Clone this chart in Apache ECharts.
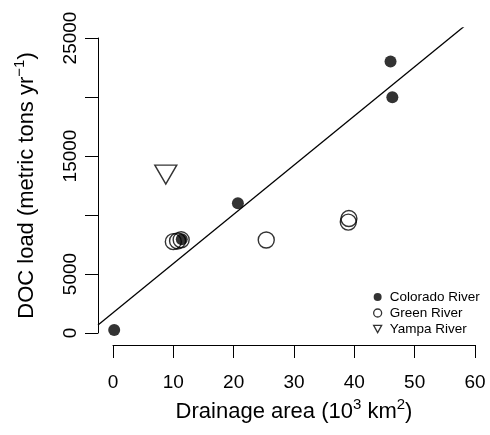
<!DOCTYPE html>
<html><head><meta charset="utf-8">
<script src="https://cdn.jsdelivr.net/npm/echarts@6/dist/echarts.min.js"></script>
<style>html,body{margin:0;padding:0;background:#fff}#c{width:490px;height:435px}</style>
</head><body><div id="c"></div>
<script>
// Data
const coloradoX = [0.2, 11.4, 20.7, 46.0, 46.3];
const coloradoY = [250, 7940, 10990, 23000, 19970];
const greenX = [10.0, 10.7, 11.3, 25.4, 39.1, 39.0];
const greenY = [7740, 7800, 7900, 7880, 9700, 9400];
const yampaX = [8.75];
const yampaY = [13430];
const xTickLabels = ['0','10','20','30','40','50','60'];
const yTickLabels = ['0','5000','15000','25000'];
// fitted regression line (intercept, slope)
const fitIntercept = 1716, fitSlope = 417;
// plot-region extent (R-style 4% padding) used to clip the fit line
const regionX = [-2.486, 62.486];
const regionY = [-1017, 25847];

const FONT = 'Liberation Sans, Arial, Helvetica, sans-serif';
const zip = (xs, ys) => xs.map((x, i) => [x, ys[i]]);
const fitLine = regionX.map(x => [x, fitIntercept + fitSlope * x]);
const triPath = 'path://M0,0 L22,0 L11,19 Z';
const richTitle = {
  n: {fontSize: 22, fontFamily: FONT, color: '#000', lineHeight: 30},
  s: {fontSize: 15, fontFamily: FONT, color: '#000', verticalAlign: 'top', lineHeight: 15}
};

const chart = echarts.init(document.getElementById('c'), null, {renderer: 'canvas'});
chart.setOption({
  animation: false,
  backgroundColor: '#fff',
  textStyle: {fontFamily: FONT},
  grid: [
    {left: 113, right: 15, top: 38, bottom: 102, containLabel: false},
    {left: 98, right: 0, top: 28, bottom: 90, containLabel: false}
  ],
  xAxis: [{
    type: 'value', gridIndex: 0, min: 0, max: 60, interval: 10, offset: 12,
    axisLine: {show: true, onZero: false, lineStyle: {color: '#000', width: 1}},
    axisTick: {show: true, length: 13, lineStyle: {color: '#000', width: 1}},
    splitLine: {show: false},
    axisLabel: {color: '#000', fontSize: 19, fontFamily: FONT, margin: 28,
      formatter: v => xTickLabels.includes(String(v)) ? String(v) : ''},
    name: '{n|Drainage area (10}{s|3}{n| km}{s|2}{n|)}',
    nameLocation: 'middle', nameGap: 52,
    nameTextStyle: {color: '#000', fontSize: 22, fontFamily: FONT, rich: richTitle}
  }, {
    type: 'value', gridIndex: 1, min: regionX[0], max: regionX[1], show: false,
    splitLine: {show: false}
  }],
  yAxis: [{
    type: 'value', gridIndex: 0, min: 0, max: 25000, interval: 5000, offset: 15,
    axisLine: {show: true, onZero: false, lineStyle: {color: '#000', width: 1}},
    axisTick: {show: true, length: 13, lineStyle: {color: '#000', width: 1}},
    splitLine: {show: false},
    axisLabel: {color: '#000', fontSize: 19, fontFamily: FONT, margin: 18, rotate: 90,
      formatter: v => yTickLabels.includes(String(v)) ? String(v) : ''},
    name: '{n|DOC load (metric tons yr}{s|\u22121}{n|)}',
    nameLocation: 'middle', nameGap: 56, nameRotate: 90,
    nameTextStyle: {color: '#000', fontSize: 22, fontFamily: FONT, rich: richTitle}
  }, {
    type: 'value', gridIndex: 1, min: regionY[0], max: regionY[1], show: false,
    splitLine: {show: false}
  }],
  legend: {
    orient: 'vertical', left: 373, top: 289, padding: 0, itemWidth: 8, itemHeight: 8, itemGap: 0,
    textStyle: {color: '#000', fontSize: 13.5, fontFamily: FONT, lineHeight: 16, padding: [0,0,0,3]},
    selectedMode: false,
    data: [
      {name: 'Colorado River', icon: 'circle', itemStyle: {color: '#000', borderWidth: 0}},
      {name: 'Green River', icon: 'circle', itemStyle: {color: '#fff', borderColor: '#000', borderWidth: 1.3}},
      {name: 'Yampa River', icon: 'path://M0,0 L10,0 L5,9 Z', itemStyle: {color: '#fff', borderColor: '#000', borderWidth: 1.3}}
    ]
  },
  series: [
    {name: 'fit', type: 'line', xAxisIndex: 1, yAxisIndex: 1, data: fitLine, clip: true,
      showSymbol: false, silent: true, lineStyle: {color: '#000', width: 1.3}, z: 3},
    {name: 'Colorado River', type: 'scatter', data: zip(coloradoX, coloradoY), clip: false,
      symbol: 'circle', symbolSize: 12, itemStyle: {color: '#000'}, z: 2},
    {name: 'Green River', type: 'scatter', data: zip(greenX, greenY), clip: false,
      symbol: 'circle', symbolSize: 16,
      itemStyle: {color: 'rgba(0,0,0,0)', borderColor: '#000', borderWidth: 1.4}, z: 2},
    {name: 'Yampa River', type: 'scatter', data: zip(yampaX, yampaY), clip: false,
      symbol: triPath, symbolSize: [22, 19],
      itemStyle: {color: 'rgba(0,0,0,0)', borderColor: '#000', borderWidth: 1.4}, z: 2}
  ]
});
</script></body></html>
